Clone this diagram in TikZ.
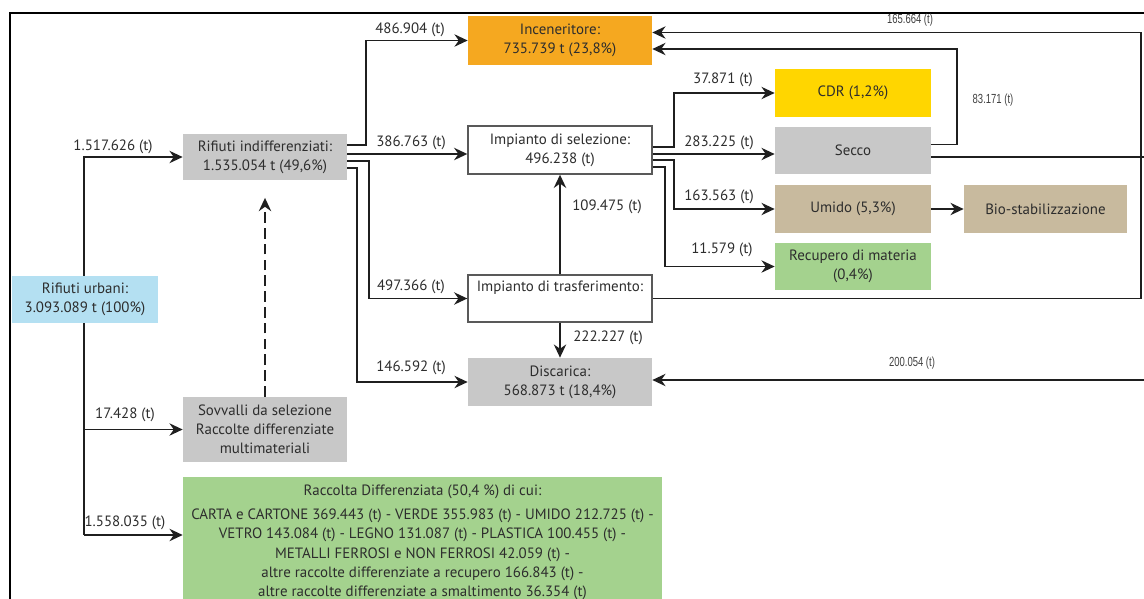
\documentclass[tikz,border=0pt]{standalone}
\usepackage{fontspec}
\setmainfont{PT Sans}
\newfontfamily\narrowfont[FakeStretch=0.72]{Liberation Sans}
\usetikzlibrary{arrows.meta,calc}
\definecolor{cblue}{RGB}{180,224,242}
\definecolor{cgray}{RGB}{200,200,200}
\definecolor{corange}{RGB}{245,168,32}
\definecolor{cyellow}{RGB}{255,214,0}
\definecolor{ctan}{RGB}{200,186,158}
\definecolor{cgreen}{RGB}{164,210,142}
\definecolor{ctext}{RGB}{45,45,45}
\begin{document}
\begin{tikzpicture}[x=0.02cm,y=-0.02cm,
  box/.style={draw=none, align=center, inner sep=1pt, text=ctext,
    font=\fontsize{8.5}{10.8}\selectfont},
  wbox/.style={box, fill=white, draw=black!65, line width=0.8pt},
  arr/.style={draw=black!88, line width=1.1pt, -{Stealth[length=7.5pt,width=7pt]}},
  ln/.style={draw=black!88, line width=1.1pt},
  lbl/.style={inner sep=0pt, text=ctext, font=\fontsize{8.5}{10}\selectfont},
  nlbl/.style={inner sep=0pt, text=black!75, font=\narrowfont\fontsize{7.5}{9}\selectfont},
  frame/.style={draw=black, line width=1.7pt}]
\useasboundingbox (0,0) rectangle (1144,599);
\clip (0,0) rectangle (1144,599);

% frame
\coordinate (fA) at (10,599);
\coordinate (fB) at (10,13);
\coordinate (fC) at (1144,13);
\draw[frame] (fA) -- (fB) -- (fC);

% nodes
\node[box, fill=cblue, minimum width=2.92cm, minimum height=0.94cm] (urb) at (85,299.5) {Rifiuti urbani:\\3.093.089 t (100\%)};
\node[box, fill=cgray, minimum width=3.28cm, minimum height=0.92cm] (ind) at (265,157) {Rifiuti indifferenziati:\\1.535.054 t (49,6\%)};
\node[box, fill=cgray, minimum width=3.28cm, minimum height=1.30cm] (sov) at (265,429.5) {Sovvalli da selezione\\Raccolte differenziate\\multimateriali};
\node[box, fill=cgreen, minimum width=9.58cm, inner xsep=0.04cm, anchor=north, inner ysep=4.5pt,
  font=\fontsize{8.5}{11}\selectfont] (rd) at (422.5,477)
  {Raccolta Differenziata (50,4 \%) di cui:\\[2.5pt]
   CARTA e CARTONE 369.443 (t) - VERDE 355.983 (t) - UMIDO 212.725 (t) -\\
   VETRO 143.084 (t) - LEGNO 131.087 (t) - PLASTICA 100.455 (t) -\\
   METALLI FERROSI e NON FERROSI 42.059 (t) -\\
   altre raccolte differenziate a recupero 166.843 (t) -\\
   altre raccolte differenziate a smaltimento 36.354 (t)};

\node[box, fill=corange, minimum width=3.68cm, minimum height=0.98cm] (inc) at (560,40.5) {Inceneritore:\\735.739 t (23,8\%)};
\node[wbox, minimum width=3.68cm, minimum height=0.96cm] (sel) at (560,150) {Impianto di selezione:\\496.238 (t)};
\node[wbox, minimum width=3.68cm, minimum height=0.94cm] (tra) at (560,298.5) {Impianto di trasferimento:\\\strut};
\node[box, fill=cgray, minimum width=3.68cm, minimum height=0.96cm] (dis) at (560,382) {Discarica:\\568.873 t (18,4\%)};

\node[box, fill=cyellow, minimum width=3.12cm, minimum height=0.96cm] (cdr) at (853,93) {CDR (1,2\%)};
\node[box, fill=cgray, minimum width=3.12cm, minimum height=0.94cm] (sec) at (853,150.5) {Secco};
\node[box, fill=ctan, minimum width=3.12cm, minimum height=0.96cm] (umi) at (853,209) {Umido (5,3\%)};
\node[box, fill=ctan, minimum width=3.26cm, minimum height=0.96cm] (bio) at (1045.5,209) {Bio-stabilizzazione};
\node[box, fill=cgreen, minimum width=3.12cm, minimum height=0.94cm] (rec) at (853,266.5) {Recupero di materia\\(0,4\%)};

% helper coordinates
\coordinate (tx) at (84,0);
\coordinate (tb) at (84,535);
\coordinate (i1) at ($(ind.east)+(0,-12)$);
\coordinate (i2) at ($(ind.east)+(0,-3)$);
\coordinate (i3) at ($(ind.east)+(0,4)$);
\coordinate (i4) at ($(ind.east)+(0,11)$);
\coordinate (s1) at ($(sel.east)+(0,-3)$);
\coordinate (s2) at ($(sel.east)+(0,4)$);
\coordinate (s3) at ($(sel.east)+(0,10)$);
\coordinate (s4) at ($(sel.east)+(0,17)$);
\coordinate (c1) at ($(sec.east)+(0,-6)$);
\coordinate (c2) at ($(sec.east)+(0,6.5)$);
\coordinate (n1) at ($(inc.east)+(0,-8)$);
\coordinate (n2) at ($(inc.east)+(0,8.5)$);
\coordinate (rc) at (1141,0);
\coordinate (secR) at (1144,157);
\coordinate (disR) at (1144,380);

% trunk from Rifiuti urbani
\draw[arr] (urb.north -| tx) |- (ind.west);
\draw[ln] (urb.south -| tx) -- (tb);
\draw[arr] (tb) -- (tb -| rd.west);
\draw[arr] (sov.west -| tx) -- (sov.west);
\draw[arr, dashed, dash pattern=on 6pt off 3pt] (sov.north) -- ([yshift=-10pt]ind.south);

% outflows of Rifiuti indifferenziati
\draw[arr] (i1) -- ++(19,0) |- (inc.west);
\draw[arr] (i2) -- (i2 -| sel.west);
\draw[arr] (i3) -- ++(22,0) |- (tra.west);
\draw[arr] (i4) -- ++(10,0) |- (dis.west);

% trasferimento
\draw[arr] (tra.north) -- (sel.south);
\draw[arr] (tra.south) -- (dis.north);
\draw[arr] (tra.east) -- (tra.east -| rc) |- (n1);

% selezione outflows
\draw[arr] (s1) -- ++(21,0) |- (cdr.west);
\draw[arr] (s2) -- (s2 -| sec.west);
\draw[arr] (s3) -- ++(21,0) |- (umi.west);
\draw[arr] (s4) -- ++(12,0) |- (rec.west);

% secco
\draw[arr] (c1) -- ++(26,0) |- (n2);
\draw[ln] (c2) -- (c2 -| secR);
\draw[arr] (disR) -- (disR -| dis.east);

% umido
\draw[arr] (umi.east) -- (bio.west);

% labels
\node[lbl] (l1) at (113,147) {1.517.626 (t)};
\node[lbl] (l2) at (125,415) {17.428 (t)};
\node[lbl] (l3) at (125,523) {1.558.035 (t)};
\node[lbl] (l4) at (410,30) {486.904 (t)};
\node[lbl] (l5) at (411,143) {386.763 (t)};
\node[lbl] (l6) at (411,287) {497.366 (t)};
\node[lbl] (l7) at (411,368) {146.592 (t)};
\node[lbl] (l8) at (607,207) {109.475 (t)};
\node[lbl] (l9) at (608,338) {222.227 (t)};
\node[lbl] (l10) at (723,80) {37.871 (t)};
\node[lbl] (l11) at (719,143) {283.225 (t)};
\node[lbl] (l12) at (719,197) {163.563 (t)};
\node[lbl] (l13) at (722,250) {11.579 (t)};
\node[nlbl] (l14) at (910,20) {165.664 (t)};
\node[nlbl] (l15) at (993,100) {83.171 (t)};
\node[nlbl] (l16) at (912,363) {200.054 (t)};
\end{tikzpicture}
\end{document}
